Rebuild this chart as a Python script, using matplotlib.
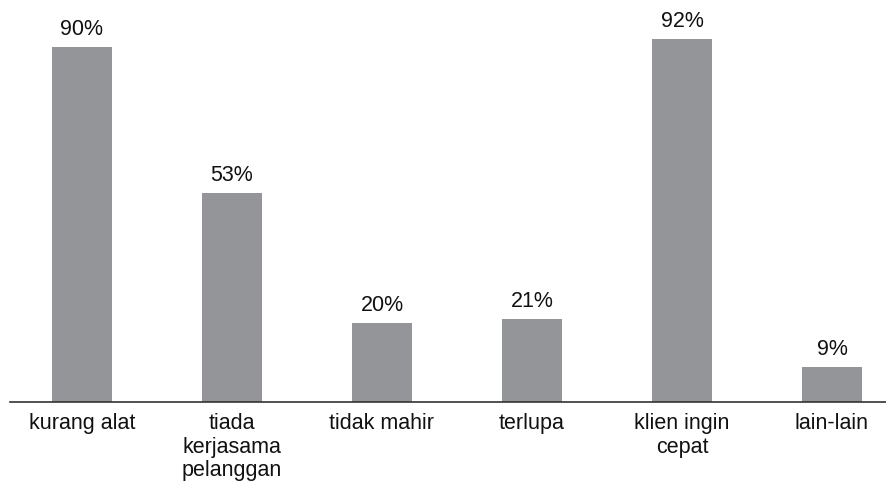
import matplotlib
matplotlib.use("Agg")
from matplotlib import pyplot as plt

categories = ["kurang alat", "tiada\nkerjasama\npelanggan", "tidak mahir",
              "terlupa", "klien ingin\ncepat", "lain-lain"]
values = [90, 53, 20, 21, 92, 9]

plt.rcParams["font.family"] = ["Liberation Sans", "DejaVu Sans"]

fig = plt.figure(figsize=(8.87, 4.87), dpi=100)
ax = fig.add_axes([10 / 887, 85 / 487, 877 / 887, 394.4 / 487])

x = list(range(len(categories)))
bars = ax.bar(x, values, width=0.4, color="#939598")

# percentage labels above each bar
for xi, v in zip(x, values):
    ax.annotate(f"{v}%", xy=(xi, v), xytext=(0, 5), textcoords="offset points",
                ha="center", va="bottom", fontsize=15.5, color="#111111")

ax.set_xlim(-0.48, 5.367)
ax.set_ylim(0, 100)
ax.set_xticks(x)
ax.set_xticklabels(categories, fontsize=15.5, linespacing=1.15, color="#111111")
ax.tick_params(axis="x", length=0, pad=8)
ax.set_yticks([])

for side in ["top", "right", "left"]:
    ax.spines[side].set_visible(False)
ax.spines["bottom"].set_color("#333333")
ax.spines["bottom"].set_linewidth(1.2)

plt.savefig("out.png", dpi=100, facecolor="white")
